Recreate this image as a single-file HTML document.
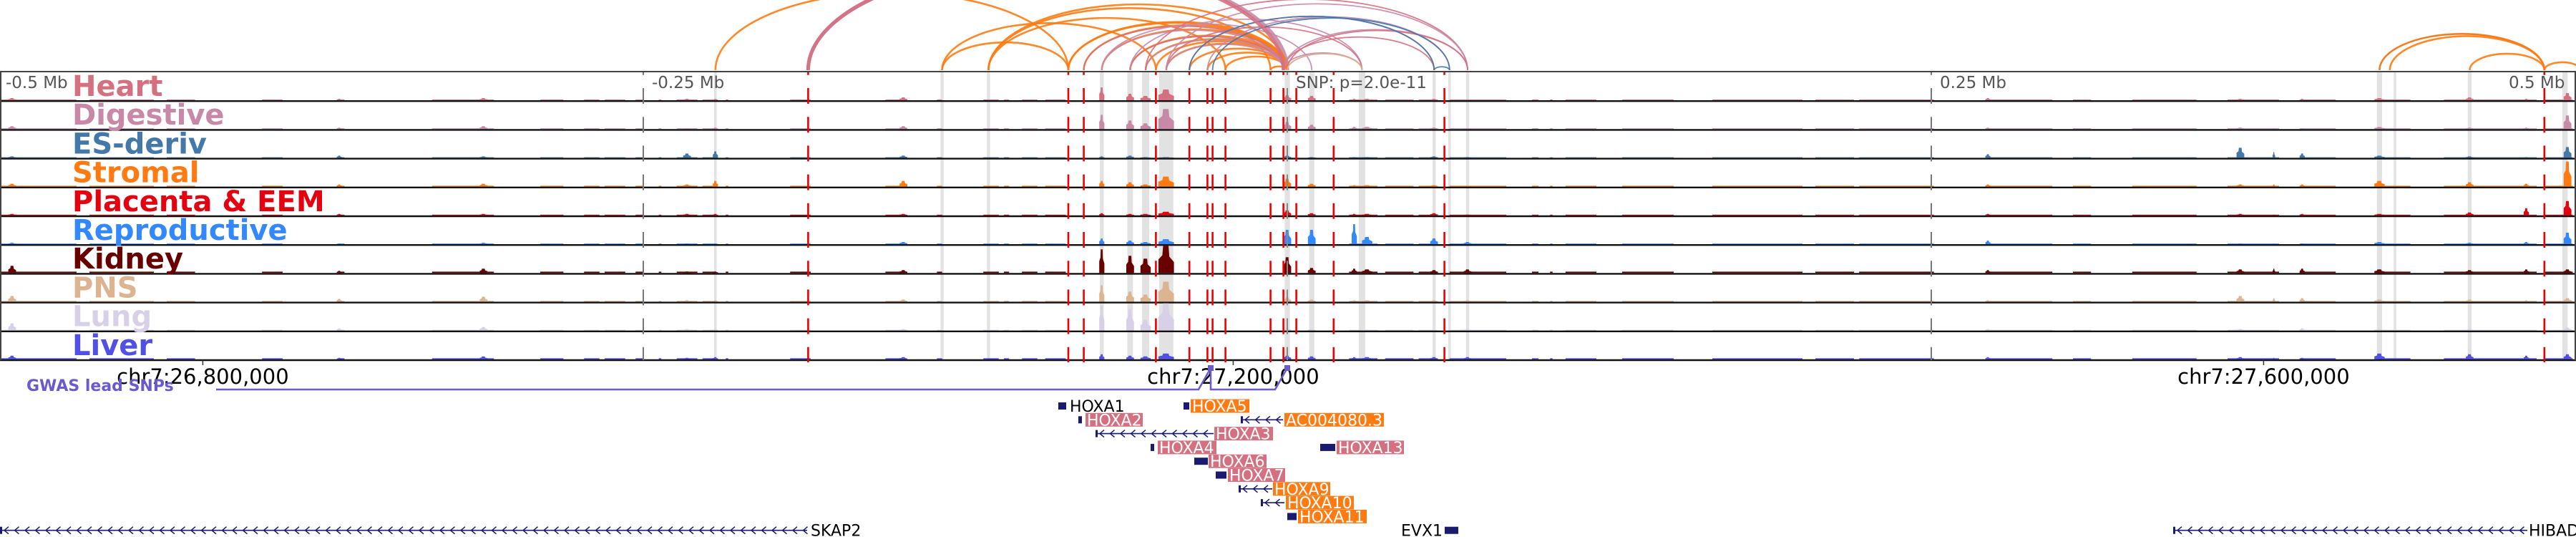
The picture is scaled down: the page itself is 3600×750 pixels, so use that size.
<!DOCTYPE html>
<html><head><meta charset="utf-8">
<style>
html,body{margin:0;padding:0;background:#fff;}
svg{display:block;font-family:"DejaVu Sans","Liberation Sans",sans-serif;}
</style></head>
<body>
<svg id="chart" width="3600" height="750" viewBox="0 0 3600 750" xmlns="http://www.w3.org/2000/svg">
<g id="arcs"></g>
<g id="bands"></g>
<g id="tracks"></g>
<g id="vlines"></g>
<g id="labels"></g>
<g id="genes"></g>
</svg>
<script>
// ---- data ----
const trackNames = ["Heart","Digestive","ES-deriv","Stromal","Placenta & EEM","Reproductive","Kidney","PNS","Lung","Liver"];
const trackColors = ["#d4707f","#c888a8","#4477aa","#ff7b12","#e4000f","#3388ff","#690000","#dcb48f","#d8d0e6","#5050e6"];
const peakKb = [-495,-368,-312,-233,-222,-149,-72,-61,-55,-47,0,9.5,26,31,57,70,272,370,383,394,424,459,481,497];
const peakWidthKb = [3,2,3,3,2,3,2,3,4,6,3,3,2,4,3,3,2,3,1,2,4,3,2,3];
const hHeart = [3,2,3,2,2,4,18,9,6,15,7,6,2,2,2,1,3,2,1,2,3,4,2,10];
const hDigestive = [4,2,4,1,2,4,20,12,8,28,10,6,3,3,2,1,2,2,1,1,3,2,2,19];
const hES = [2,3,2,6,9,3,2,3,1,1,3,1,1,1,2,1,5,14,8,6,3,2,1,15];
const hStromal = [4,3,4,3,8,8,8,6,3,14,11,4,2,2,2,1,3,3,3,3,8,6,4,35];
const hPlacenta = [2,2,2,2,2,2,3,2,2,5,7,3,2,2,3,1,2,2,1,2,2,4,10,20];
const hRepro = [2,1,2,1,1,3,8,5,3,7,20,20,28,10,8,3,5,1,1,1,3,2,3,16];
const hKidney = [10,3,6,2,2,4,33,24,20,38,22,7,6,5,4,5,4,5,6,6,5,4,5,5];
const hPNS = [8,4,7,2,2,3,23,14,10,28,6,3,2,2,2,2,2,8,5,5,3,3,2,5];
const hLung = [10,3,5,2,2,2,35,30,15,38,3,2,1,1,1,2,2,2,1,3,2,2,1,4];
const hLiver = [5,2,4,2,3,3,7,5,4,8,5,4,3,3,3,3,3,3,2,2,8,7,5,7];
const peakHeights = [hHeart,hDigestive,hES,hStromal,hPlacenta,hRepro,hKidney,hPNS,hLung,hLiver];
const bgLevel = [1,1,0.8,1.2,1,0.8,1.8,1.2,1,1.5];
const bgStart = [-500,-465,-435,-398,-368,-332,-290,-273,-265,-253,-244,-237,-227,-218,-193,-156,-136,-118,-110,-103,-94,24,38,51,63,95,102,108,130,165,205,222,272,305,328,365,393,423,449,488];
const bgEnd   = [-470,-440,-424,-390,-366,-308,-281,-267,-257,-250,-243,-229,-222,-217,-185,-148,-134,-112,-108,-97,-86,35,49,58,85,97.5,103,120,150,200,220,251,297,312,353,385,407,436,485,499];
const snpKb = [-186,-85,-79,-51,-38,-31,-29,-24,-6.5,-1.5,3.5,18,61,488,502];
const bandKb = [-222,-134,-116,-72,-61,-55,-47,0,9.5,29,57,63,70,424,430,459,496];
const bandWidthKb = [1,1.2,1.2,1.5,2.2,2.8,5.5,2,2,2.5,1.2,1,1.2,2,1,1.5,2];
const arcFrom = [-222,-186,-134,-134,-116,-116,-116,-85,-85,-79,-72,-61,-55,-51,-47,-38,-31,-24,-6.5,-79,-72,-61,-55,-47,-72,-61,-47,-38,-55,-47,-38,-31,-1.5,-1.5,-1.5,0,0,-38,-29,-186,0,57,424,424,428,459,488];
const arcTo   = [-85,0,-85,-51,0,-6.5,-24,0,-1.5,0,0,0,0,0,0,0,0,0,0,-1.5,-1.5,-1.5,-1.5,-1.5,9.5,29,29,57,70,70,57,63,29,57,70,29,70,57,63,-1.5,29,63,488,488,488,488,502];
const arcTrack= [3,1,3,3,3,3,3,3,3,3,3,3,3,3,3,3,3,3,3,0,1,0,1,1,1,1,0,1,0,1,1,1,1,0,1,1,0,2,2,0,7,2,2,3,3,3,3];
const axisLabels = ["-0.5 Mb","-0.25 Mb","SNP: p=2.0e-11","0.25 Mb","0.5 Mb"];
const axisLabelKb = [-500,-250,0,250,500];
const chromLabels = ["chr7:26,800,000","chr7:27,200,000","chr7:27,600,000"];
const chromKb = [-421,-21,379];

// ---- scales ----
const X0 = 1799, PXKB = 3.6, TOP = 101, PITCH = 40.2, NT = 10;
const xKb = kb => X0 + kb*PXKB;
const trackBottom = i => TOP + PITCH*(i+1);
const NS = "http://www.w3.org/2000/svg";
function mk(tag, parent, attrs){const e=document.createElementNS(NS,tag);for(const k in attrs)e.setAttribute(k,attrs[k]);parent.appendChild(e);return e;}
const gArcs=document.getElementById('arcs'),gBands=document.getElementById('bands'),gTracks=document.getElementById('tracks'),gV=document.getElementById('vlines'),gL=document.getElementById('labels'),gG=document.getElementById('genes');

// arcs
const base = 98;
for(let i=0;i<arcFrom.length;i++){
  const x1=xKb(arcFrom[i]), x2=xKb(arcTo[i]); const span=Math.abs(x2-x1);
  const p=mk('path',gArcs,{d:`M${x1},${base} A${span/2},${span*0.22} 0 0 1 ${x2},${base}`,fill:'none',stroke:trackColors[arcTrack[i]],'stroke-width':(span>600?5:(arcTrack[i]==3?2.6:1.8)),opacity:0.9});
  
  
}
// bands
for(let i=0;i<bandKb.length;i++){
  const w=Math.max(3,bandWidthKb[i]*PXKB);
  const r=mk('rect',gBands,{x:xKb(bandKb[i])-w/2,y:TOP,width:w,height:PITCH*NT,fill:'#e2e2e2'});
  
  
}
// tracks
for(let t=0;t<NT;t++){
  const g=mk('g',gTracks,{});
  
  
  const yb=trackBottom(t)-1.2;
  for(let j=0;j<bgStart.length;j++){
    mk('rect',g,{x:xKb(bgStart[j]),y:yb-bgLevel[t],width:(bgEnd[j]-bgStart[j])*PXKB,height:bgLevel[t],fill:trackColors[t]});
  }
  const hs=peakHeights[t];
  for(let j=0;j<peakKb.length;j++){
    const w=Math.max(3,peakWidthKb[j]*PXKB);
    const cx=xKb(peakKb[j]), h=hs[j];
    const p=mk('polygon',g,{points:`${cx-w/2},${yb} ${cx-w/2},${yb-h*0.5} ${cx-w*0.25},${yb-h*0.65} ${cx-w*0.2},${yb-h} ${cx+w*0.15},${yb-h} ${cx+w*0.2},${yb-h*0.6} ${cx+w/2},${yb-h*0.4} ${cx+w/2},${yb}`,fill:trackColors[t]});
    
    
  }
  mk('line',g,{x1:0,x2:3600,y1:trackBottom(t),y2:trackBottom(t),stroke:'#111','stroke-width':2.4});
}
mk('line',gTracks,{x1:0,x2:3600,y1:TOP-1,y2:TOP-1,stroke:'#444','stroke-width':2});
mk('line',gTracks,{x1:1,x2:1,y1:TOP-1,y2:trackBottom(NT-1),stroke:'#444','stroke-width':2});
mk('line',gTracks,{x1:3599,x2:3599,y1:TOP-1,y2:trackBottom(NT-1),stroke:'#444','stroke-width':2});
// vertical dashed lines
[-250,250].forEach(kb=>{
  const l=mk('line',gV,{x1:xKb(kb),x2:xKb(kb),y1:TOP,y2:trackBottom(NT-1),stroke:'#777','stroke-width':2,'stroke-dasharray':'22 18.2','stroke-dashoffset':'-22'});
  
  
});
mk('line',gV,{x1:X0,x2:X0,y1:TOP,y2:trackBottom(NT-1),stroke:'#888','stroke-width':2,'stroke-dasharray':'22 18.2','stroke-dashoffset':'-22'});
snpKb.forEach(kb=>{
  const l=mk('line',gV,{x1:xKb(kb),x2:xKb(kb),y1:TOP,y2:trackBottom(NT-1)+3,stroke:'#ee0000','stroke-width':2.6,'stroke-dasharray':'22 18.2','stroke-dashoffset':'-22'});
  
  
});
// axis labels
axisLabels.forEach((s,i)=>{
  let x=xKb(axisLabelKb[i])+(i==0?9:i==4?-93:12);
  const t=mk('text',gL,{x:x,y:123,'font-size':23,fill:'#555'});t.textContent=s;
  
  
});
// track labels
trackNames.forEach((n,i)=>{
  const t=mk('text',gL,{x:101,y:TOP+PITCH*i+33,'font-size':40,'font-weight':'bold',fill:trackColors[i]});t.textContent=n;
  
  
});
// chrom labels + ticks
chromLabels.forEach((s,i)=>{
  const x=xKb(chromKb[i]);
  mk('line',gL,{x1:x,x2:x,y1:503,y2:510,stroke:'#333','stroke-width':1.5});
  const t=mk('text',gL,{x:x,y:536,'font-size':29,fill:'#000','text-anchor':'middle'});t.textContent=s;
  
  
});
// GWAS
const gw=mk('path',gG,{d:`M302,544 H1675 L1692,514 L1692,544 H1782 L1799,514`,fill:'none',stroke:'#6a5acd','stroke-width':2.5});


mk('rect',gG,{x:1688,y:510,width:8,height:8,fill:'#6a5acd'});
mk('rect',gG,{x:1795,y:510,width:8,height:8,fill:'#6a5acd'});
const gt=mk('text',gG,{x:37,y:546,'font-size':22,'font-weight':'bold',fill:'#6a5acd'});gt.textContent='GWAS lead SNPs';


// genes
const genes=[
 ["HOXA1",0,1479,1490,1495,0,"plain"],["HOXA5",0,1654,1662,1664,82,"orange"],
 ["HOXA2",1,1507,1512,1517,80,"pink"],["AC004080.3",1,1734,1793,1795,139,"orange"],
 ["HOXA3",2,1531,1696,1697,82,"pink"],
 ["HOXA4",3,1608,1612,1618,82,"pink"],["HOXA13",3,1845,1866,1868,94,"pink"],
 ["HOXA6",4,1669,1688,1689,81,"pink"],["HOXA7",5,1699,1714,1716,80,"pink"],
 ["HOXA9",6,1731,1778,1779,80,"orange"],["HOXA10",7,1762,1795,1797,95,"orange"],
 ["HOXA11",8,1799,1812,1814,96,"orange"],
 ["EVX1",9,2019,2038,1958,0,"plainL"],["SKAP2",9,0,1128,1133,0,"plain"],["HIBADH",9,3037,3532,3534,0,"plain"]];
genes.forEach(g=>{
  const [name,row,a,b,lx,lw,st]=g; const y=567+row*19.3;
  const grp=mk('g',gG,{});
  
  
  mk('line',grp,{x1:a,x2:b,y1:y,y2:y,stroke:'#1a1a6e','stroke-width':1.6});
  if(b-a>25){for(let x=a+6;x<b-4;x+=14.5){mk('path',grp,{d:`M${x+6},${y-5} L${x},${y} L${x+6},${y+5}`,fill:'none',stroke:'#1a1a6e','stroke-width':1.5});}
    mk('rect',grp,{x:a,y:y-5,width:3,height:10,fill:'#1a1a6e'});}
  else mk('rect',grp,{x:a,y:y-5,width:Math.max(5,b-a),height:10,fill:'#1a1a6e'});
  if(st==='pink'||st==='orange') mk('rect',grp,{x:lx,y:y-9.5,width:lw,height:19,fill:st==='pink'?'#d4707f':'#ff7b12'});
  const t=mk('text',grp,{x:lx+(lw?2:0),y:y+8,'font-size':22,fill:(st==='pink'||st==='orange')?'#fff':'#000'});t.textContent=name;
});
</script>
</body></html>
